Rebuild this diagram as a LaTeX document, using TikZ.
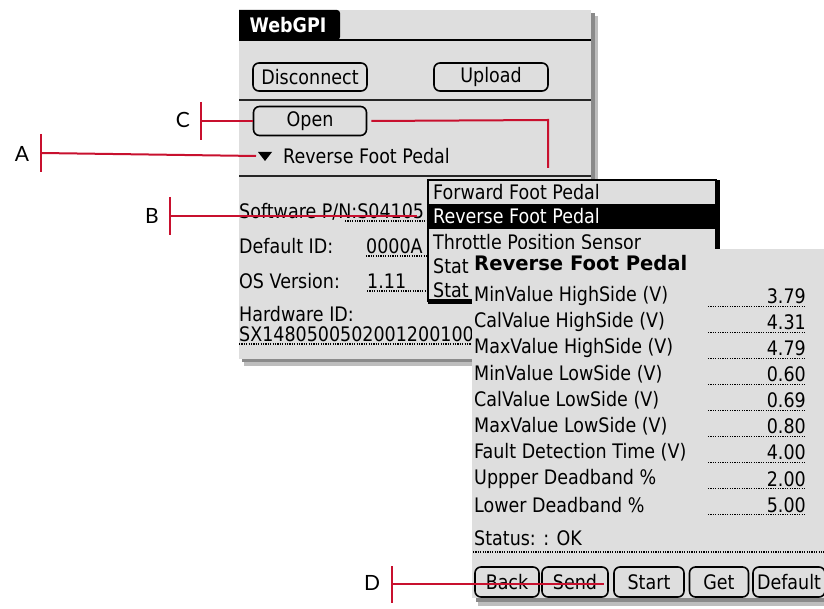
\documentclass[tikz,border=0pt]{standalone}
\usepackage{fontspec}
\newfontfamily\palmfont{DejaVu Sans}[FakeStretch=0.875]
\newfontfamily\palmbold{DejaVu Sans Bold}[FakeStretch=0.98]
\newfontfamily\lblfont{Lato}
\newcommand\ps{\palmfont\fontsize{20}{23}\selectfont}
\newcommand\pbs{\palmbold\fontsize{20}{23}\selectfont}
\definecolor{scrgray}{HTML}{DEDEDE}
\definecolor{shadowdark}{HTML}{8A8A8A}
\definecolor{shadowlight}{HTML}{BDBDBD}
\definecolor{calred}{HTML}{C8102E}
\tikzset{
  btn/.style={draw=black, line width=1.6pt, rounded corners=6pt, fill=scrgray, inner sep=0pt, font=\ps},
  callout/.style={draw=calred, line width=2pt},
  calltick/.style={draw=calred, line width=2.6pt},
  lbl/.style={font=\lblfont\fontsize{21}{24}\selectfont, text=black, inner sep=0pt},
  dotline/.style={line width=1.1pt, dash pattern=on 1.1pt off 1.3pt},
  rowtxt/.style={font=\ps, anchor=west, inner sep=0pt},
  valtxt/.style={font=\ps, anchor=east, inner sep=0pt},
  sepline/.style={line width=1.6pt, draw=black!85},
}
\begin{document}
\begin{tikzpicture}[x=1pt, y=-1pt]
\useasboundingbox (0,0) rectangle (824,609);
% ---------- back screen ----------
\fill[shadowlight] (244,16) rectangle (598,366);
\fill[shadowdark] (242,13) rectangle (595,362);
\fill[scrgray] (239,10) rectangle (591,359);
\fill[black] (239,10) [rounded corners=3pt] -- (340,10) -- (340,40) [sharp corners] -- (239,40) -- cycle;
\node[text=white, font=\palmfont\bfseries\fontsize{20}{23}\selectfont, inner sep=0pt] (tab) at (288,25) {WebGPI};
\draw[line width=2.6pt] (239,40) -- (591,40);
\node[btn, minimum width=114pt, minimum height=28pt] (disc) at (310,77) {Disconnect};
\node[btn, minimum width=114pt, minimum height=28pt] (upl) at (491,77) {Upload};
\draw[sepline] (239,100) -- (591,100);
\node[btn, minimum width=113pt, minimum height=29pt] (open) at (310,121) {Open};
\coordinate (tri) at (256,156);
\fill (258,152) -- (272,152) -- (265,161) -- cycle;
\node[rowtxt] (sel) at (283,156) {Reverse Foot Pedal};
\draw[sepline] (239,176) -- (591,176);
\node[rowtxt] (swpn) at (239,212) {Software P/N:S04105};
\draw[dotline] (345,221) -- (428,221);
\node[rowtxt] (defid) at (239,246) {Default ID:};
\node[rowtxt] (defv) at (366,246) {0000A};
\draw[dotline] (366,256) -- (428,256);
\node[rowtxt] (osv) at (239,281) {OS Version:};
\node[rowtxt] (osvv) at (367,281) {1.11};
\draw[dotline] (367,291) -- (428,291);
\node[rowtxt] (hwid) at (239,314) {Hardware ID:};
\node[rowtxt] (hwv) at (239,334) {SX1480500502001200100};
\draw[dotline] (239,344) -- (472,344);
% ---------- popup list ----------
\fill[scrgray] (428,180) rectangle (717,302);
\fill[black] (428,204) rectangle (717,229);
\draw[line width=1.6pt] (428,302) -- (428,180) -- (717,180);
\fill[black] (715,180) rectangle (720,304);
\fill[black] (428,299) rectangle (720,304);
\node[rowtxt] (pfwd) at (433,192) {Forward Foot Pedal};
\node[rowtxt, text=white] (prev) at (433,216) {Reverse Foot Pedal};
\node[rowtxt] (pthr) at (433,242) {Throttle Position Sensor};
\node[rowtxt] (pst1) at (433,266) {Stat};
\node[rowtxt] (pst2) at (433,290) {Stat};
% ---------- front screen ----------
\begin{scope}
\clip (0,0) rectangle (824,609);
\fill[shadowlight] (478,600) rectangle (830,606);
\fill[shadowdark] (476,597) rectangle (830,602);
\fill[scrgray] (472,249) rectangle (830,598);
\node[rowtxt, font=\pbs] (title) at (474,263) {Reverse Foot Pedal};
\foreach \lab/\v [count=\i] in {MinValue HighSide (V)/3.79, CalValue HighSide (V)/4.31, MaxValue HighSide (V)/4.79, MinValue LowSide (V)/0.60, CalValue LowSide (V)/0.69, MaxValue LowSide (V)/0.80, Fault Detection Time (V)/4.00, Uppper Deadband \%/2.00, Lower Deadband \%/5.00}{
  \pgfmathsetmacro{\yy}{270+26.1*\i}
  \node[rowtxt] (row\i) at (474,\yy) {\lab};
  \node[valtxt] (val\i) at (806,\yy) {\v};
  \draw[dotline] (708,\yy+10) -- (806,\yy+10);
}
\node[rowtxt] (status) at (474,538) {Status: : OK};
\draw[dotline] (473,552) -- (824,552);
\node[btn, minimum width=64pt, minimum height=30pt] (back) at (507,582) {Back};
\node[btn, minimum width=66pt, minimum height=30pt] (send) at (575,582) {Send};
\node[btn, minimum width=70pt, minimum height=30pt] (start) at (649,582) {Start};
\node[btn, minimum width=59pt, minimum height=30pt] (get) at (719,582) {Get};
\node[btn, minimum width=72pt, minimum height=30pt] (dflt) at (789,582) {Default};
\end{scope}
% ---------- callouts ----------
\node[lbl] (la) at (22,154) {A};
\node[lbl] (lc) at (183,120) {C};
\node[lbl] (lb) at (152,216) {B};
\node[lbl] (ld) at (372,583) {D};
\coordinate (ta) at (41,153);
\coordinate (tc) at (201,121);
\coordinate (tb) at (170,216);
\coordinate (td) at (392,584);
\coordinate (eb) at (417,216);
\coordinate (ed) at (604,584);
\coordinate (oc) at (548,120);
\coordinate (oe) at (548,168);
\draw[calltick] (41,134) -- (41,172);
\draw[calltick] (201,102) -- (201,140);
\draw[calltick] (170,197) -- (170,235);
\draw[calltick] (392,566) -- (392,603);
\draw[callout] (ta) -- (tri);
\draw[callout] (tc) -- (open.west);
\draw[callout] (tb) -- (eb);
\draw[callout] (td) -- (ed);
\draw[callout] ([xshift=4pt]open.east) -- (oc) -- (oe);
\end{tikzpicture}
\end{document}
